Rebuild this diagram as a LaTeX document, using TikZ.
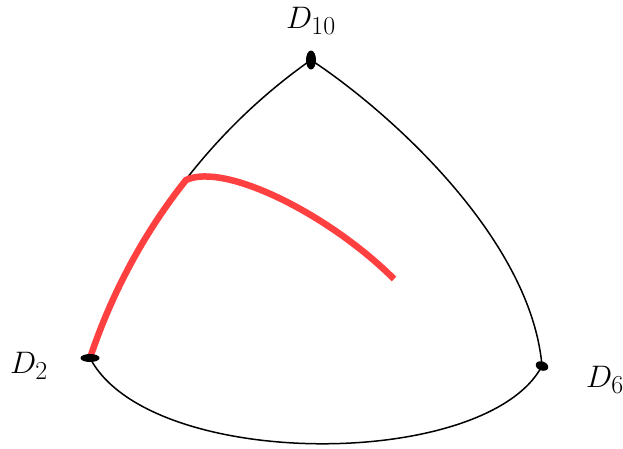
\documentclass[tikz,border=0pt]{standalone}
\usepackage{graphicx}
\usepackage{tikz}
\usetikzlibrary{positioning}
\definecolor{redpath}{HTML}{FF4040}
\tikzset{
  edge/.style={black,line width=1.5pt},
  walk/.style={redpath,line width=6.5pt},
  vlabel/.style={font=\fontsize{24.88}{30}\selectfont}
}
\newcommand{\vtext}[1]{\scalebox{1.25}{$#1$}}
\begin{document}
\begin{tikzpicture}[x=1pt,y=-1pt]
  \useasboundingbox (0,0) rectangle (623,448);
  % vertices
  \coordinate (d2) at (90,358);
  \coordinate (d6) at (542,366);
  \coordinate (d10) at (311,60);
  \coordinate (bend) at (186,180);
  \coordinate (stop) at (394,279);
  % sides of the triangle
  \draw[edge] (d2) .. controls (129,243) and (204,135) .. (d10);
  \draw[edge] (d10) .. controls (390,112) and (531,239) .. (d6);
  \draw[edge] (d6) .. controls (486,471) and (149,471) .. (d2);
  % red path
  \draw[walk,line join=round] (d2) .. controls (111,295) and (143,234) .. (bend)
    .. controls (225,162) and (330,215) .. (stop);
  % dots
  \fill (d10) ellipse (5 and 9.5);
  \fill (d2) ellipse (9.5 and 4);
  \fill[rotate around={-20:(d6)}] (d6) ellipse (6.5 and 4.5);
  % labels
  \node[vlabel] (l10) at (311,21) {\vtext{D_{10}}};
  \node[vlabel] (l2) at (29,366) {\vtext{D_{2}}};
  \node[vlabel] (l6) at (605,380) {\vtext{D_{6}}};
\end{tikzpicture}
\end{document}
